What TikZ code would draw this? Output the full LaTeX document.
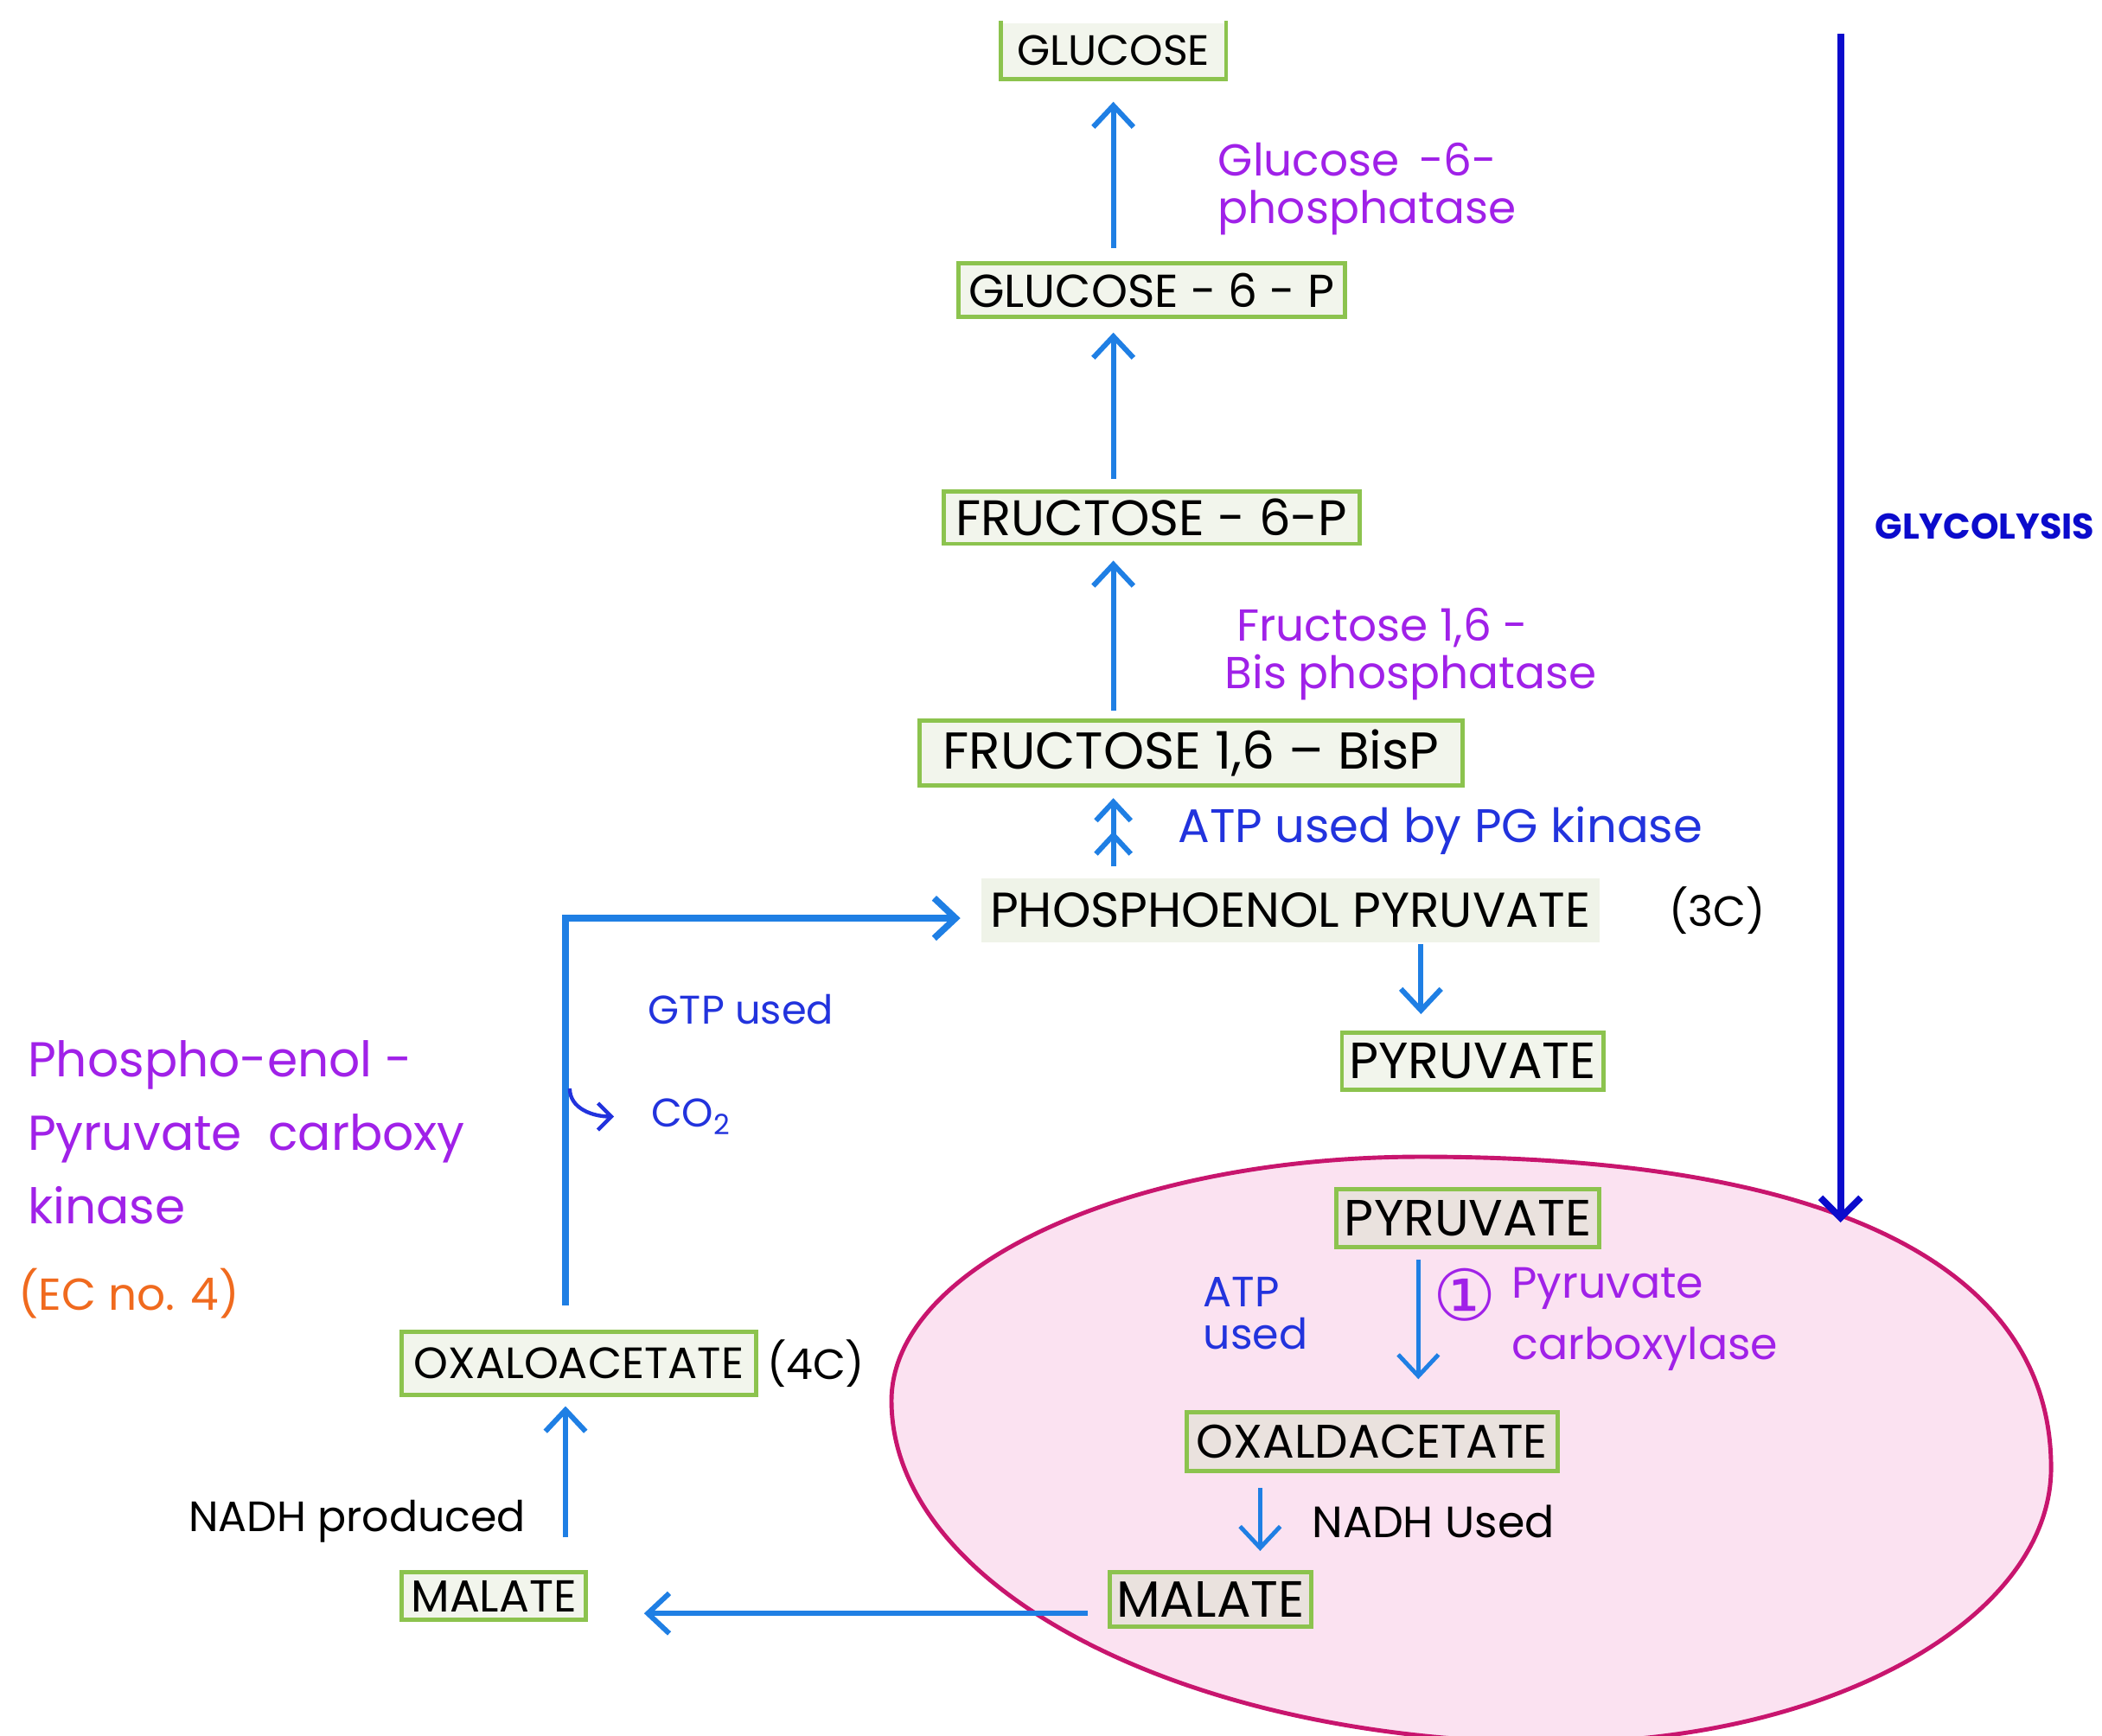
\documentclass[tikz,border=0pt]{standalone}
\usepackage{fontspec}
\setmainfont{Poppins}
\newfontfamily\symfont{DejaVu Sans}
\usepackage{xcolor}
\usepackage{tikz}
\usetikzlibrary{arrows.meta,positioning}
\definecolor{gngreen}{HTML}{8CC34E}
\definecolor{gnpale}{HTML}{F2F5EC}
\definecolor{gnbeige}{HTML}{EAE2DE}
\definecolor{gnpep}{HTML}{EFF3E8}
\definecolor{gnarrow}{HTML}{1F7FE4}
\definecolor{gnink}{HTML}{2233DD}
\definecolor{gnglyc}{HTML}{0B0BCC}
\definecolor{gnpurple}{HTML}{A021E8}
\definecolor{gnorange}{HTML}{F06A1E}
\definecolor{mitofill}{HTML}{FBE2F1}
\definecolor{mitoline}{HTML}{C8156E}
\tikzset{
  met/.style={draw=gngreen,line width=0.9pt,fill=gnpale,inner sep=1pt,font=\fontsize{9}{10}\selectfont},
  metin/.style={met,fill=gnbeige},
  txt/.style={font=\fontsize{#1}{12}\selectfont},
  enz/.style={text=gnpurple,align=left,anchor=west,inner sep=0pt,font=\fontsize{9.5}{10}\selectfont},
  cof/.style={enz,text=gnink},
  note/.style={enz,text=black},
  flow/.style={-{Straight Barb[length=1.6mm,width=3mm]},draw=gnarrow,line width=1.1pt},
  mito/.style={draw=mitoline,fill=mitofill,line width=0.9pt},
}

\begin{document}
\begin{tikzpicture}
  \useasboundingbox (0,0) rectangle (15.68,-12.95);
  % mitochondrion outline
  \draw[mito] (6.65,-10.45) .. controls (6.65,-9.45) and (8.42,-8.63) .. (10.60,-8.63)
    .. controls (13.65,-8.63) and (15.30,-9.44) .. (15.30,-10.95)
    .. controls (15.30,-12.08) and (13.64,-13.00) .. (11.60,-13.00)
    .. controls (8.87,-13.00) and (6.65,-11.86) .. cycle;

  % cytosol
  \node[met,fill=gnpep,draw=none,minimum width=46.1mm,minimum height=4.8mm,txt=10.4] (pep) at (9.625,-6.79) {PHOSPHOENOL PYRUVATE};
  \node[met,minimum width=40.5mm,minimum height=4.8mm,txt=11,above=6.6mm of pep,xshift=-7.4mm] (f16bp) {FRUCTOSE 1,6 -- BisP};
  \node[met,minimum width=31mm,minimum height=3.9mm,txt=10.6,above=12.9mm of f16bp,xshift=-2.95mm] (f6p) {FRUCTOSE - 6-P};
  \node[met,minimum width=28.8mm,minimum height=4mm,txt=9.8,above=12.7mm of f6p] (g6p) {GLUCOSE - 6 - P};
  \node[met,draw=none,minimum width=16.5mm,minimum height=4mm,above=13.6mm of g6p,xshift=-2.85mm] (glc) {GLUCOSE};
  \draw[gngreen,line width=0.9pt] (glc.north west) |- (glc.south east) -- (glc.north east);
  \node[right=5mm of pep,inner sep=0pt,txt=9] (c3) {(3C)};
  \node[met,minimum width=19.5mm,minimum height=4.3mm,txt=10.8,below=6.4mm of pep,xshift=13.6mm] (pyr) {PYRUVATE};

  % mitochondrion
  \node[metin,minimum width=19.6mm,minimum height=4.3mm,txt=10.8,below=7.1mm of pyr,xshift=-0.35mm] (pyrm) {PYRUVATE};
  \node[metin,minimum width=27.7mm,minimum height=4.4mm,txt=10,below=12mm of pyrm,xshift=-7.15mm] (oxam) {OXALDACETATE};
  \node[metin,minimum width=15mm,minimum height=4.1mm,txt=10.8,below=7.2mm of oxam,xshift=-12.05mm] (malm) {MALATE};

  \node[met,minimum width=13.7mm,minimum height=3.6mm,txt=9.5,left=38.8mm of malm,yshift=0.25mm] (malc) {MALATE};
  \node[met,minimum width=26.4mm,minimum height=4.7mm,txt=9.3,above=12.9mm of malc,xshift=6.35mm] (oxac) {OXALOACETATE};
  \node[right=0.6mm of oxac,inner sep=0pt,txt=9] (c4) {(4C)};

  % labels
  \node[enz] (g6pase) at (9.08,-1.41) {Glucose\ \,-6-\\phosphatase};
  \node[enz] (f16pase) at (9.13,-4.88) {\ Fructose 1,6\ -\\Bis phosphatase};
  \node[cof,txt=10] (atpkin) at (8.78,-6.20) {ATP used by PG kinase};
  \node[cof,txt=8.5] (gtp) at (4.83,-7.53) {GTP used};
  \node[cof,txt=8.5] (co2) at (4.85,-8.33) {CO\textsubscript{2}};
  \node[enz,font=\fontsize{10.4}{15.6}\selectfont] (pepck) at (0.20,-8.45) {Phospho-enol -\\Pyruvate\ \ carboxy\\kinase};
  \node[enz,text=gnorange] (ec) at (0.13,-9.65) {(EC no. 4)};
  \node[note,txt=9] (nadhp) at (1.40,-11.35) {NADH produced};
  \node[cof,font=\fontsize{9}{9}\selectfont] (atpu) at (8.97,-9.80) {ATP\\used};
  \node[text=gnpurple,inner sep=0pt,font=\symfont\fontsize{15}{15}\selectfont] (one) at (10.93,-9.66) {①};
  \node[enz,font=\fontsize{9.3}{13}\selectfont] (pyc) at (11.27,-9.84) {Pyruvate\\carboxylase};
  \node[note,txt=9.3] (nadhu) at (9.78,-11.35) {NADH Used};
  \node[enz,text=gnglyc,font=\fontsize{7.6}{8}\selectfont\bfseries] (glyc) at (13.98,-3.93) {GLYCOLYSIS};

  \coordinate (gtop) at (13.73,-0.25);
  \coordinate (gbot) at (13.73,-9.12);
  \coordinate (co2fork) at (4.25,-8.12);

  % arrows
  \draw[flow,shorten <=1mm,shorten >=1.7mm] (g6p.north -| glc) -- (glc.south);
  \draw[flow,shorten <=0.8mm,shorten >=1mm] (f6p.north -| glc) -- (g6p.south -| glc);
  \draw[flow,shorten <=0.6mm,shorten >=1.1mm] (f16bp.north -| glc) -- (f6p.south -| glc);
  \draw[flow,-{Straight Barb[length=1.4mm,width=2.6mm,sep=0.6mm]Straight Barb[length=1.4mm,width=2.6mm]},shorten <=0.7mm,shorten >=0.8mm] (pep.north -| glc) -- (f16bp.south -| glc);
  \draw[flow,shorten >=1.2mm] ([xshift=-3.85mm]pyr.north |- pep.south) -- ([xshift=-3.85mm]pyr.north);
  \draw[flow,line width=1.4pt,shorten >=1.4mm] ([xshift=-1mm,yshift=1.8mm]oxac.north) |- ([yshift=-0.6mm]pep.west);
  \draw[-{Straight Barb[length=1mm,width=2mm]},gnink,line width=0.8pt] (co2fork) to[out=-90,in=180] ([xshift=-2.7mm]co2.west);
  \draw[flow,shorten <=2.4mm,shorten >=0.7mm] ([xshift=5.35mm]malc.north) -- ([xshift=5.35mm]malc.north |- oxac.south);
  \draw[flow,shorten <=1.5mm,shorten >=4.2mm] ([yshift=-1.05mm]malm.west) -- ([yshift=-1.05mm]malm.west -| malc.east);
  \draw[flow,line width=0.9pt,shorten <=0.8mm,shorten >=2.3mm] ([xshift=-3.7mm]pyrm.south) -- ([xshift=-3.7mm]pyrm.south |- oxam.north);
  \draw[flow,line width=0.9pt,shorten <=1.1mm,shorten >=1.4mm] ([xshift=3.7mm]malm.north |- oxam.south) -- ([xshift=3.7mm]malm.north);
  \draw[-{Straight Barb[length=1.5mm,width=3mm]},gnglyc,line width=1.4pt] (gtop) -- (gbot);
\end{tikzpicture}
\end{document}
